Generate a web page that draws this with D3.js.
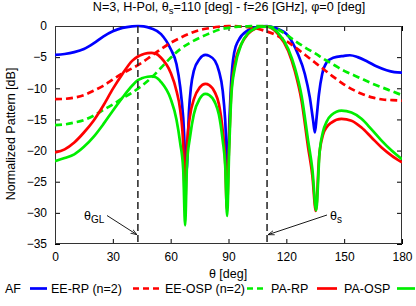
<!DOCTYPE html>
<html><head><meta charset="utf-8">
<script src="https://cdnjs.cloudflare.com/ajax/libs/d3/7.8.5/d3.min.js"></script>
<style>
body{margin:0;background:#fff;}
text{font-family:"Liberation Sans",Arial,sans-serif;}
</style></head>
<body><svg id="c" width="416" height="306"></svg>
<script>
// ---- data ----
const xTicks = [0,30,60,90,120,150,180];
const yTicks = [0,-5,-10,-15,-20,-25,-30,-35];
const seriesNames = ["AF","EE-RP (n=2)","EE-OSP (n=2)","PA-RP","PA-OSP"];

const afTheta = [0,5,10,15,20,25,30,35,40,43,46,50,55,60,63,65,66.5,68.2,69.5,70.5,72,75,78,80,83,85,87,88.3,89.5,90.5,91.2,92,93,95,100,105,110,115,121,126,129.6,132.2,133.9,134.8,135.7,136.9,138.6,140.8,144.3,150,153,157,162,167,172,176,180];
const afDb    = [-4.65,-4.5,-4.2,-3.7,-2.8,-1.7,-0.85,-0.3,-0.05,0,-0.05,-0.4,-1.3,-3.7,-6.1,-9.9,-14.7,-23.5,-13.6,-9.9,-7.2,-5.3,-4.65,-4.8,-5.6,-7.2,-10.4,-15.2,-23.5,-15,-10,-6.5,-4.2,-2.4,-0.7,-0.15,0,-0.4,-1.6,-4.5,-7.7,-11.5,-15.2,-17.1,-14.7,-11,-7.7,-5.9,-5.1,-4.8,-4.7,-5.0,-5.7,-6.5,-7.1,-7.4,-7.5];

const eeTheta = [0,5,10,15,20,25,30,35,40,45,50,55,60,65,70,75,80,85,90,95,100,105,110,115,120,125,130,135,140,145,150,155,160,165,170,175,180];
const eeRpDb  = [-11.75,-11.7,-11.5,-11.1,-10.4,-9.6,-8.6,-7.6,-6.8,-5.9,-4.8,-3.7,-2.7,-1.9,-1.2,-0.65,-0.35,-0.12,0,-0.05,-0.2,-0.45,-0.9,-1.5,-2.4,-3.5,-4.7,-5.9,-7.1,-8.3,-9.4,-10.3,-11.0,-11.5,-11.8,-11.9,-12.0];
const eeOspDb = [-15.9,-15.8,-15.5,-15.1,-14.4,-13.5,-12.6,-11.6,-10.7,-9.6,-8.3,-6.7,-5.1,-3.7,-2.7,-1.9,-1.2,-0.6,-0.3,-0.1,-0.05,0,-0.05,-0.45,-1.4,-2.5,-3.5,-4.4,-5.4,-6.3,-7.2,-7.9,-8.6,-9.3,-9.9,-10.5,-11.1];

const paRpTheta = [0,5,10,15,20,25,30,35,40,43,45,48,50,52,55,60,63,65,66.5,67.5,68.5,70,72,75,78,80,83,85,87,88.2,89.2,90.2,91.5,93.3,96.7,100,104,107,110,115.7,121,124.4,127.9,131.3,133.5,135.3,137,139,141,143.4,148.6,153.8,159,164.2,169.4,174.6,180];
const paRpDb    = [-20.3,-19.8,-18.7,-17.1,-15.2,-12.8,-10.1,-7.7,-5.6,-4.9,-4.6,-4.35,-4.3,-4.4,-5.1,-7.5,-10.4,-13.6,-19,-28.8,-19,-14.5,-11.8,-9.9,-9.3,-9.5,-10.7,-12.5,-16.8,-21,-29.5,-20,-10.4,-6.1,-2.9,-1.3,-0.4,-0.15,-0.1,-1.3,-4.0,-7.2,-12,-19.5,-24,-29.7,-21,-17.5,-16.2,-15.5,-14.9,-15.2,-16.3,-17.9,-19.5,-20.8,-21.9];

const paOspTheta = [0,5,10,15,20,25,30,35,40,43,45,48,50,52,55,60,63,65,66.5,67.5,68.5,70,72,75,78,80,83,85,87,88.3,89.3,90.3,91.5,93.3,96.7,100,104,107,110,115.7,121,124.4,127.9,131.3,133.5,135.5,137.2,139,141,143.4,148.6,153.8,159,164.2,169.4,174.6,180];
const paOspDb    = [-21.7,-21.2,-20.6,-19.4,-17.8,-15.8,-13.6,-11.5,-9.6,-8.7,-8.4,-8.15,-8.1,-8.2,-9.0,-11.7,-15.0,-18.9,-23,-32.0,-22,-17.9,-14.2,-11.7,-10.9,-11.1,-12.3,-14.2,-18.4,-22.5,-30.5,-20.5,-11,-6.7,-2.9,-1.2,-0.35,-0.1,-0.1,-1.1,-3.7,-6.7,-11.2,-18.4,-23,-29.6,-20.5,-17,-15.3,-14.3,-13.6,-13.9,-14.9,-16.6,-18.4,-20,-21.4];

const thetaGL = 43, thetaS = 110;

// ---- chart ----
const svg = d3.select("#c");
const L=55, R=402, T=26, B=244;
const x = d3.scaleLinear().domain([0,180]).range([L,R]);
const y = d3.scaleLinear().domain([-35,0]).range([B,T]);

const series = [
  {name:seriesNames[0], th:afTheta,  v:afDb,    color:"#0000ff", dash:null},
  {name:seriesNames[1], th:eeTheta,  v:eeRpDb,  color:"#ff0000", dash:"7,4"},
  {name:seriesNames[2], th:eeTheta,  v:eeOspDb, color:"#00ee00", dash:"7,4"},
  {name:seriesNames[3], th:paRpTheta,v:paRpDb,  color:"#ff0000", dash:null},
  {name:seriesNames[4], th:paOspTheta,v:paOspDb,color:"#00ee00", dash:null}
];

svg.append("clipPath").attr("id","clip").append("rect")
  .attr("x",L).attr("y",T-2).attr("width",R-L).attr("height",B-T+2);

// axes (ticks inside)
const fs = "12px";
const gx = svg.append("g").attr("transform",`translate(0,${B})`)
  .call(d3.axisBottom(x).tickValues(xTicks).tickSize(-5).tickPadding(8).tickFormat(d3.format("d")));
const gy = svg.append("g").attr("transform",`translate(${L},0)`)
  .call(d3.axisLeft(y).tickValues(yTicks).tickSize(-5).tickPadding(8).tickFormat(d3.format("d")));
const gxt = svg.append("g").attr("transform",`translate(0,${T})`)
  .call(d3.axisTop(x).tickValues(xTicks).tickSize(-5).tickFormat(""));
const gyr = svg.append("g").attr("transform",`translate(${R},0)`)
  .call(d3.axisRight(y).tickValues(yTicks).tickSize(-5).tickFormat(""));
[gx,gy,gxt,gyr].forEach(g=>{
  g.select(".domain").remove();
  g.selectAll("line").attr("stroke","#000");
  g.selectAll("text").attr("font-size",fs).attr("fill","#000")
   .attr("font-family","'Liberation Sans',Arial,sans-serif");
});
gy.selectAll("text").text(d=> d===0 ? "0" : d3.format("d")(d));

// border
svg.append("rect").attr("x",L+0.5).attr("y",T+0.5).attr("width",R-L-1).attr("height",B-T-1)
  .attr("fill","none").attr("stroke","#333").attr("stroke-width",1);

// curves
const line = d3.line().x(d=>x(d[0])).y(d=>y(d[1])).curve(d3.curveMonotoneX);
const gc = svg.append("g").attr("clip-path","url(#clip)");
series.forEach(s=>{
  gc.append("path").datum(s.th.map((t,i)=>[t,s.v[i]]))
    .attr("d",line).attr("fill","none").attr("stroke",s.color)
    .attr("stroke-width",2.7).attr("stroke-linejoin","round")
    .attr("stroke-dasharray",s.dash);
});

// vertical dashed markers
[thetaGL,thetaS].forEach(t=>{
  svg.append("line").attr("x1",x(t)).attr("x2",x(t)).attr("y1",T).attr("y2",B)
    .attr("stroke","#222").attr("stroke-width",1.5).attr("stroke-dasharray","7,4");
});

// annotations with arrows
const defs = svg.append("defs");
defs.append("marker").attr("id","arr").attr("viewBox","0 0 10 10").attr("refX",10).attr("refY",5)
  .attr("markerWidth",7).attr("markerHeight",7).attr("orient","auto")
  .append("path").attr("d","M0,1.5 L10,5 L0,8.5").attr("fill","none").attr("stroke","#000").attr("stroke-width",1.2);

function annot(tx,ty,sub,lx1,ly1,lx2,ly2){
  const t = svg.append("text").attr("x",tx).attr("y",ty).attr("font-size","12.5px");
  t.append("tspan").text("θ");
  t.append("tspan").attr("dy",3).attr("font-size","10px").text(sub);
  svg.append("line").attr("x1",lx1).attr("y1",ly1).attr("x2",lx2).attr("y2",ly2)
    .attr("stroke","#000").attr("stroke-width",0.9).attr("marker-end","url(#arr)");
}
annot(84,220,"GL",107,215.5,x(thetaGL)-1,y(-33.5));
annot(330,220,"s",327,215,x(thetaS)+1,y(-33.5));

// title
const title = svg.append("text").attr("x",229).attr("y",11).attr("text-anchor","middle").attr("font-size","12.6px");
title.append("tspan").text("N=3, H-Pol, θ");
title.append("tspan").attr("dy",3).attr("font-size","9.5px").text("s");
title.append("tspan").attr("dy",-3).text("=110 [deg] - f=26 [GHz], φ=0 [deg]");

// axis labels
svg.append("text").attr("x",228).attr("y",278).attr("text-anchor","middle").attr("font-size","12.5px").text("θ [deg]");
svg.append("text").attr("transform","translate(15,134) rotate(-90)").attr("text-anchor","middle")
  .attr("font-size","12.5px").text("Normalized Pattern [dB]");

// legend (gnuplot style: title then sample)
const legTextX = [5,51,165,271,344];
const legLineX = [[30,47],[133,161],[247,266],[317,337],[397,415]];
series.forEach((s,i)=>{
  svg.append("text").attr("x",legTextX[i]).attr("y",293).attr("font-size","12.5px").text(s.name);
  svg.append("line").attr("x1",legLineX[i][0]).attr("x2",legLineX[i][1]).attr("y1",288.5).attr("y2",288.5)
    .attr("stroke",s.color).attr("stroke-width",2.7).attr("stroke-dasharray",s.dash ? "6,4" : null);
});
</script></body></html>
